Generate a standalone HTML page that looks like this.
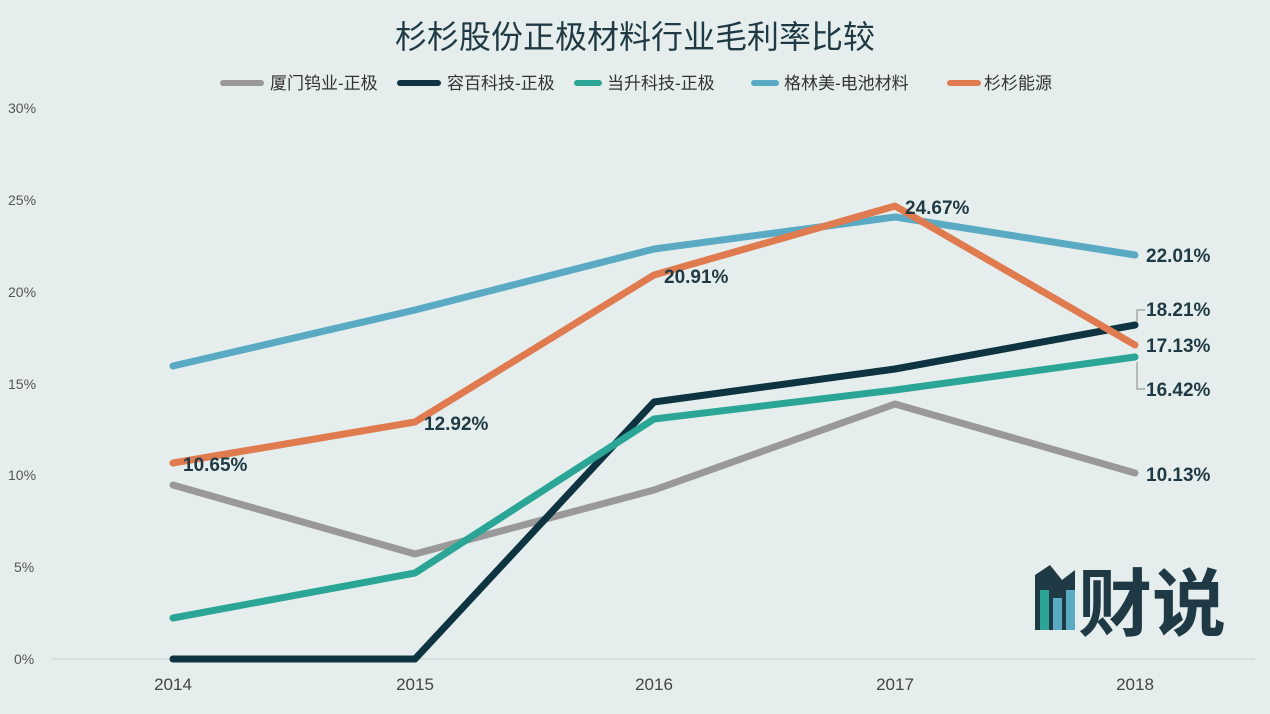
<!DOCTYPE html>
<html><head><meta charset="utf-8"><style>
body{margin:0;background:#e5eeed;}
svg{display:block}
text{font-family:"Liberation Sans","Noto Sans CJK SC",sans-serif}
</style></head><body>
<svg width="1270" height="714" viewBox="0 0 1270 714">
<rect width="1270" height="714" fill="#e5eeed"/>
<text x="635" y="48" text-anchor="middle" font-size="32" fill="#1f3a44">杉杉股份正极材料行业毛利率比较</text>
<g font-size="17" fill="#333">
<rect x="220" y="80" width="44" height="6" rx="3" fill="#999"/><text x="270" y="89">厦门钨业-正极</text>
<rect x="397" y="80" width="44" height="6" rx="3" fill="#0d3440"/><text x="447" y="89">容百科技-正极</text>
<rect x="574" y="80" width="28" height="6" rx="3" fill="#2aa596"/><text x="607" y="89">当升科技-正极</text>
<rect x="751" y="80" width="28" height="6" rx="3" fill="#5aaac4"/><text x="784" y="89">格林美-电池材料</text>
<rect x="947" y="80" width="34" height="6" rx="3" fill="#e07b50"/><text x="984" y="89">杉杉能源</text>
</g>
<g font-size="14" fill="#555">
<text x="8" y="113">30%</text><text x="8" y="205">25%</text><text x="8" y="297">20%</text>
<text x="8" y="389">15%</text><text x="8" y="480">10%</text><text x="14" y="572">5%</text><text x="14" y="664">0%</text>
</g>
<line x1="52" y1="659" x2="1255" y2="659" stroke="#c8d0d0" stroke-width="1"/>
<g font-size="17" fill="#444" text-anchor="middle">
<text x="173" y="690">2014</text><text x="415" y="690">2015</text><text x="654" y="690">2016</text><text x="895" y="690">2017</text><text x="1135" y="690">2018</text>
</g>
<g fill="none" stroke-width="7" stroke-linejoin="round" stroke-linecap="round">
<polyline stroke="#999" points="173,485 415,554 654,490 895,404 1135,473"/>
<polyline stroke="#0d3440" points="173,659 415,659 654,402 895,369 1135,325"/>
<polyline stroke="#2aa596" points="173,618 415,573 654,419 895,390 1135,357"/>
<polyline stroke="#5aaac4" points="173,366 415,310 654,249 895,217 1135,255"/>
<polyline stroke="#e07b50" points="173,463 415,422 654,275 895,206 1135,345"/>
</g>
<g font-size="19" font-weight="bold" fill="#1f3a44">
<text x="183" y="471">10.65%</text><text x="424" y="430">12.92%</text><text x="664" y="283">20.91%</text>
<text x="905" y="214">24.67%</text><text x="1146" y="262">22.01%</text><text x="1146" y="316">18.21%</text>
<text x="1146" y="352">17.13%</text><text x="1146" y="396">16.42%</text><text x="1146" y="481">10.13%</text>
</g>
<g stroke="#888" stroke-width="1" fill="none">
<polyline points="1145,310 1137,310 1137,322"/><polyline points="1145,389 1137,389 1137,362"/>
</g>
<g>
<polygon points="1035,630 1035,575 1050,565 1062,580 1075,570 1075,630" fill="#1f3a44"/>
<rect x="1040" y="590" width="9" height="40" fill="#2aa596"/>
<rect x="1053" y="598" width="9" height="32" fill="#5aaac4"/>
<rect x="1066" y="590" width="9" height="40" fill="#5aaac4"/>
<text x="1078" y="630" font-size="74" font-weight="bold" fill="#1f3a44">财说</text>
</g>
</svg>
</body></html>
